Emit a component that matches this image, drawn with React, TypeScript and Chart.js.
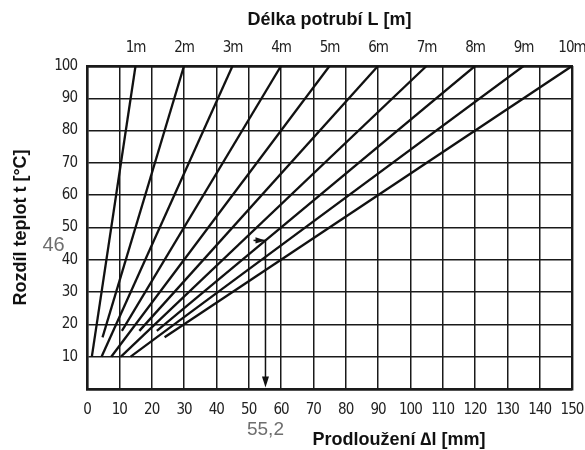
import React, { useEffect, useRef } from 'react';
import { Chart, registerables } from 'chart.js';

Chart.register(...registerables);

// Pipe lengths (top labels) and the straight lines for each length
const lengthLabels = ['1m', '2m', '3m', '4m', '5m', '6m', '7m', '8m', '9m', '10m'];
const startElongation = [1.5, 4.8, 4.5, 10.8, 7.5, 16.2, 10.5, 21.6, 13.5, 24];
const startTemp = [10, 16, 10, 18, 10, 18, 10, 18, 10, 16];
const endElongation = [15, 30, 45, 60, 75, 90, 105, 120, 135, 150];
const endTemp = [100, 100, 100, 100, 100, 100, 100, 100, 100, 100];

// Axis ticks
const xTicks = [0, 10, 20, 30, 40, 50, 60, 70, 80, 90, 100, 110, 120, 130, 140, 150];
const yTicks = [0, 10, 20, 30, 40, 50, 60, 70, 80, 90, 100];

// Worked example (read-off arrow)
const exampleTemp = 46;
const exampleElongation = 55.2;
const exampleArrowStart = 51.5;
const exampleTempLabel = '46';
const exampleElongationLabel = '55,2';

const topTitle = 'Délka potrubí L [m]';
const yTitle = 'Rozdíl teplot t [°C]';
const xTitle = 'Prodloužení ∆l [mm]';

const NARROW = "'Liberation Sans Narrow', 'DejaVu Sans Condensed', 'Arial Narrow', sans-serif";
const SANS = "'Liberation Sans', Arial, sans-serif";
const INK = '#1a1a1a';

const annotationPlugin = {
  id: 'annotations',
  afterDatasetsDraw(chart: any) {
    const { ctx, scales } = chart;
    const x = scales.x;
    const y = scales.y;
    ctx.save();
    ctx.fillStyle = '#111';
    // horizontal arrowhead (pointing right) at the example point
    const tipX = x.getPixelForValue(exampleElongation);
    const tipY = y.getPixelForValue(exampleTemp);
    ctx.beginPath();
    ctx.moveTo(tipX, tipY);
    ctx.lineTo(tipX - 10, tipY - 3.2);
    ctx.lineTo(tipX - 10, tipY + 3.2);
    ctx.closePath();
    ctx.fill();
    // vertical arrowhead (pointing down) at the axis
    const botY = y.getPixelForValue(0) - 1.5;
    ctx.beginPath();
    ctx.moveTo(tipX, botY);
    ctx.lineTo(tipX - 3.5, botY - 11);
    ctx.lineTo(tipX + 3.5, botY - 11);
    ctx.closePath();
    ctx.fill();

    // example labels
    ctx.fillStyle = '#6e6e6e';
    ctx.textAlign = 'center';
    ctx.textBaseline = 'middle';
    ctx.font = `20px ${SANS}`;
    ctx.fillText(exampleTempLabel, 53.5, tipY + 5);
    ctx.font = `19px ${SANS}`;
    ctx.fillText(exampleElongationLabel, tipX, 430);

    // bottom axis title
    ctx.fillStyle = '#111';
    ctx.font = `bold 18px ${SANS}`;
    ctx.fillText(xTitle, 399, 440);
    ctx.restore();
    // tighter spacing for the (condensed) tick labels drawn next
    (ctx as any).letterSpacing = '-1px';
  },
  afterDraw(chart: any) {
    (chart.ctx as any).letterSpacing = '0px';
  },
};

export default function App() {
  const canvasRef = useRef<HTMLCanvasElement | null>(null);

  useEffect(() => {
    const canvas = canvasRef.current;
    if (!canvas) return;

    const datasets: any[] = lengthLabels.map((label, i) => ({
      label,
      data: [
        { x: startElongation[i], y: startTemp[i] },
        { x: endElongation[i], y: endTemp[i] },
      ],
      borderColor: '#111',
      borderWidth: 2.3,
      pointRadius: 0,
      fill: false,
    }));
    datasets.push({
      label: 'example-h',
      data: [
        { x: exampleArrowStart, y: exampleTemp },
        { x: exampleElongation, y: exampleTemp },
      ],
      borderColor: '#111',
      borderWidth: 1.5,
      pointRadius: 0,
    });
    datasets.push({
      label: 'example-v',
      data: [
        { x: exampleElongation, y: exampleTemp },
        { x: exampleElongation, y: 2 },
      ],
      borderColor: '#111',
      borderWidth: 1.5,
      pointRadius: 0,
    });

    const gridWidth = (v: number, edges: number[]) => (edges.includes(v) ? 2.4 : 1.5);
    const tickFont = { family: NARROW, size: 15 };

    const chart = new Chart(canvas, {
      type: 'line',
      data: { datasets },
      plugins: [annotationPlugin],
      options: {
        animation: false,
        responsive: false,
        maintainAspectRatio: false,
        layout: { padding: { left: 0, right: 13, top: 0, bottom: 0 } },
        plugins: {
          legend: { display: false },
          tooltip: { enabled: false },
        },
        scales: {
          x: {
            type: 'linear',
            position: 'bottom',
            min: 0,
            max: 150,
            afterBuildTicks: (s: any) => {
              s.ticks = xTicks.map((v) => ({ value: v }));
            },
            afterFit: (s: any) => {
              s.height = 61;
              s.paddingLeft = 0;
              s.paddingRight = 0;
            },
            ticks: {
              autoSkip: false,
              maxRotation: 0,
              padding: 12,
              color: '#222',
              font: tickFont,
              z: 1,
            },
            grid: {
              color: INK,
              lineWidth: (c: any) => gridWidth(c.tick?.value, [0, 150]),
              drawTicks: false,
            },
            border: { display: true, color: INK, width: 2.4 },
          },
          x2: {
            type: 'linear',
            position: 'top',
            min: 0,
            max: 150,
            afterBuildTicks: (s: any) => {
              s.ticks = endElongation.map((v) => ({ value: v }));
            },
            afterFit: (s: any) => {
              s.height = 66;
              s.paddingLeft = 0;
              s.paddingRight = 0;
            },
            ticks: {
              autoSkip: false,
              maxRotation: 0,
              padding: 9,
              color: '#222',
              font: tickFont,
              z: 1,
              callback: (_v: any, i: number) => lengthLabels[i],
            },
            grid: { display: false, drawTicks: false },
            border: { display: true, color: INK, width: 2.4 },
            title: {
              display: true,
              text: topTitle,
              color: '#111',
              font: { family: SANS, size: 18, weight: 'bold' },
              padding: { top: 9, bottom: 0 },
            },
          },
          y: {
            type: 'linear',
            position: 'left',
            min: 0,
            max: 100,
            afterBuildTicks: (s: any) => {
              s.ticks = yTicks.map((v) => ({ value: v }));
            },
            afterFit: (s: any) => {
              s.width = 87;
            },
            ticks: {
              padding: 10,
              color: '#222',
              font: tickFont,
              z: 1,
              callback: (v: any) => (v === 0 ? '' : String(v)),
            },
            grid: {
              color: INK,
              lineWidth: (c: any) => gridWidth(c.tick?.value, [0, 100]),
              drawTicks: false,
            },
            border: { display: true, color: INK, width: 2.4 },
            title: {
              display: true,
              text: yTitle,
              color: '#111',
              font: { family: SANS, size: 18, weight: 'bold' },
              padding: { top: 10, bottom: 0 },
            },
          },
        },
      } as any,
    });

    return () => chart.destroy();
  }, []);

  return (
    <div style={{ position: 'absolute', left: 0, top: 0, width: 585, height: 450, background: '#fff' }}>
      <canvas ref={canvasRef} width={585} height={450} style={{ display: 'block' }} />
    </div>
  );
}
